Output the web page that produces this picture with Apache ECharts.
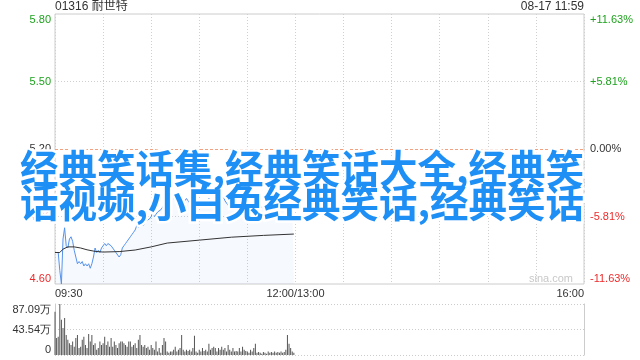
<!DOCTYPE html>
<html>
<head>
<meta charset="utf-8">
<script src="https://cdn.jsdelivr.net/npm/echarts@6/dist/echarts.min.js"></script>
<style>html,body{margin:0;padding:0;background:#fff}#c{width:640px;height:360px}</style>
</head>
<body>
<div id="c"></div>
<script>
const titleLeft = '01316 耐世特';
const titleRight = '08-17 11:59';
const watermark = 'sina.com';
const overlayLines = ['经典笑话集,经典笑话大全,经典笑', '话视频,小白兔经典笑话,经典笑话'];

const timeTickMinutes = [0, 150, 330];
const timeTickLabels = ['09:30', '12:00/13:00', '16:00'];
const priceTicks = [4.60, 4.90, 5.20, 5.50, 5.80];
const priceTickLabels = ['4.60', '4.90', '5.20', '5.50', '5.80'];
const pctTickLabels = ['-11.63%', '-5.81%', '0.00%', '+5.81%', '+11.63%'];
const preClose = 5.20;
const volMax = 87.09;
const volTickLabels = ['0', '43.54万', '87.09万'];

// price per minute from 09:30 (index 0) to 11:59 (index 149)
const price = [
  4.74, 4.74, 4.74, 4.66, 4.60, 4.80, 4.85, 4.77, 4.76, 4.80,
  4.81, 4.79, 4.75, 4.72, 4.69, 4.70, 4.69, 4.70, 4.68, 4.69,
  4.68, 4.69, 4.67, 4.69, 4.72, 4.76, 4.74, 4.75, 4.74, 4.76,
  4.77, 4.78, 4.77, 4.78, 4.78, 4.77, 4.76, 4.75, 4.74, 4.74,
  4.72, 4.73, 4.76, 4.77, 4.78, 4.79, 4.80, 4.81, 4.82, 4.83,
  4.84, 4.86, 4.85, 4.86, 4.87, 4.86, 4.87, 4.88, 4.88, 4.89,
  4.90, 4.92, 4.90, 4.91, 4.92, 4.92, 4.93, 4.94, 4.95, 4.96,
  4.97, 4.96, 4.98, 4.99, 4.98, 4.97, 4.99, 5.00, 4.98, 4.97,
  4.96, 4.97, 4.98, 4.97, 4.96, 4.95, 4.96, 4.97, 4.98, 4.97,
  4.96, 4.97, 4.96, 4.95, 4.96, 4.97, 4.98, 4.97, 4.96, 4.97,
  4.98, 4.97, 4.96, 4.97, 4.98, 4.99, 4.97, 4.96, 4.95, 4.96,
  4.95, 4.96, 4.95, 4.94, 4.95, 4.96, 4.95, 4.94, 4.95, 4.94,
  4.93, 4.94, 4.93, 4.92, 4.93, 4.94, 4.93, 4.94, 4.95, 4.94,
  4.95, 4.96, 4.95, 4.96, 4.95, 4.96, 4.97, 4.96, 4.95, 4.96,
  4.97, 4.96, 4.95, 4.96, 4.97, 4.96, 4.95, 4.96, 4.97, 4.97
];

// average price line, read at [minute, value]
const avgMinutes = [0, 3, 5, 8, 12, 16, 20, 25, 30, 40, 50, 60, 70, 90, 110, 130, 149];
const avgValues = [4.74, 4.74, 4.755, 4.765, 4.765, 4.76, 4.752, 4.745, 4.742, 4.744, 4.751, 4.765, 4.782, 4.795, 4.808, 4.816, 4.822];

// volume per minute (万)
const volume = [
  74, 29, 31, 87.09, 60, 46, 63, 34, 26, 20,
  17, 23, 14, 29, 34, 12, 14, 26, 31, 17,
  12, 36, 23, 34, 17, 20, 9, 12, 23, 17,
  20, 31, 17, 23, 14, 29, 14, 23, 17, 12,
  20, 23, 23, 20, 17, 14, 23, 23, 14, 17,
  20, 12, 26, 34, 17, 14, 17, 12, 14, 9,
  17, 12, 9, 23, 6, 12, 4, 17, 29, 23,
  6, 4, 6,
  6, 9, 14, 6, 9, 12, 34, 9, 6, 9,
  7, 9, 6, 12, 33, 6, 4, 9, 6, 12,
  7, 9, 6, 19, 9, 12, 14, 12, 6, 12,
  9, 14, 9, 12, 6, 17, 9, 6, 12, 6,
  7, 6, 12, 6, 14, 9, 7, 6, 4, 9,
  6, 12, 19, 4, 5, 4, 2, 5, 4, 2,
  6, 4, 5, 4, 6, 4, 5, 4, 6, 4,
  5, 9, 34, 19, 12, 6, 4
];

const GREEN = '#1fa21f', RED = '#ee2b2b', DARK = '#333';
function priceColor(v) {
  const n = parseFloat(v);
  if (Math.abs(n - preClose) < 1e-6) return DARK;
  return n > preClose ? GREEN : RED;
}
const baseFont = '"Liberation Sans", Arial, sans-serif';
const bigFont = 'bold 38.5px "Noto Sans CJK SC"';

const chart = echarts.init(document.getElementById('c'), null, {renderer: 'canvas'});
chart.setOption({
  animation: false,
  backgroundColor: '#fff',
  grid: [
    {left: 55, right: 56, top: 14, height: 270, show: true, borderColor: '#ccc', borderWidth: 1, backgroundColor: 'transparent'},
    {left: 55, right: 56, top: 304, height: 51}
  ],
  xAxis: [
    {
      type: 'value', gridIndex: 0, min: 0, max: 330, interval: 30,
      axisLine: {show: false}, axisTick: {show: false},
      splitLine: {show: true, lineStyle: {color: '#d0d0d0', type: [1, 2], width: 1}},
      axisLabel: {
        show: true, interval: 0, margin: 4, color: DARK, fontSize: 11, fontFamily: baseFont,
        alignMinLabel: 'left', alignMaxLabel: 'right',
        formatter: function (v) { const i = timeTickMinutes.indexOf(v); return i >= 0 ? timeTickLabels[i] : ''; }
      }
    },
    {
      type: 'value', gridIndex: 1, min: 0, max: 330,
      axisLine: {show: false}, axisTick: {show: false}, splitLine: {show: false}, axisLabel: {show: false}
    }
  ],
  yAxis: [
    {
      type: 'value', gridIndex: 0, min: priceTicks[0], max: priceTicks[4], interval: 0.3, position: 'left',
      axisLine: {show: false}, axisTick: {show: false},
      splitLine: {show: true, lineStyle: {color: ['transparent', '#d0d0d0', 'transparent', '#d0d0d0', 'transparent'], type: [1, 2]}},
      axisLabel: {
        margin: 4, fontSize: 11, fontFamily: baseFont, color: priceColor,
        verticalAlignMinLabel: 'bottom', verticalAlignMaxLabel: 'top',
        formatter: function (v, i) { return priceTickLabels[i]; }
      }
    },
    {
      type: 'value', gridIndex: 0, min: priceTicks[0], max: priceTicks[4], interval: 0.3, position: 'right',
      axisLine: {show: false}, axisTick: {show: false}, splitLine: {show: false},
      axisLabel: {
        margin: 6, fontSize: 11, fontFamily: baseFont, color: priceColor,
        verticalAlignMinLabel: 'bottom', verticalAlignMaxLabel: 'top',
        formatter: function (v, i) { return pctTickLabels[i]; }
      }
    },
    {
      type: 'value', gridIndex: 1, min: 0, max: volMax, interval: volMax / 2, position: 'left',
      axisLine: {show: true, lineStyle: {color: '#ccc'}}, axisTick: {show: false},
      splitLine: {show: true, lineStyle: {color: '#ccc', type: [1, 2]}},
      axisLabel: {
        margin: 4, fontSize: 11, fontFamily: baseFont, color: DARK,
        verticalAlignMinLabel: 'bottom', verticalAlignMaxLabel: 'top',
        formatter: function (v, i) { return volTickLabels[i]; }
      }
    },
    {
      type: 'value', gridIndex: 1, min: 0, max: volMax, position: 'right',
      axisLine: {show: true, lineStyle: {color: '#ccc'}}, axisTick: {show: false},
      splitLine: {show: false}, axisLabel: {show: false}
    }
  ],
  series: [
    {
      type: 'line', xAxisIndex: 0, yAxisIndex: 0, symbol: 'none', smooth: false,
      data: price.map(function (v, i) { return [i, v]; }),
      lineStyle: {color: '#5592ec', width: 1},
      areaStyle: {color: 'rgba(85,146,236,0.07)', origin: 'start'},
      markLine: {
        silent: true, symbol: 'none', label: {show: false},
        lineStyle: {color: '#f2a07e', type: [3, 2], width: 1},
        data: [{yAxis: preClose}]
      },
      z: 3
    },
    {
      type: 'line', xAxisIndex: 0, yAxisIndex: 0, symbol: 'none',
      data: avgMinutes.map(function (m, i) { return [m, avgValues[i]]; }),
      lineStyle: {color: '#333', width: 1}, z: 4
    },
    {
      type: 'bar', xAxisIndex: 1, yAxisIndex: 2, barWidth: 1,
      data: volume.map(function (v, i) { return [i, v]; }),
      itemStyle: {color: '#555'}
    }
  ],
  graphic: [
    {type: 'text', x: 55, y: 7, style: {text: titleLeft, font: '12px "Liberation Sans", Arial, "Noto Sans CJK SC"', fill: DARK, verticalAlign: 'middle', align: 'left'}},
    {type: 'text', x: 584, y: 7, style: {text: titleRight, font: '12px "Liberation Sans", Arial', fill: DARK, verticalAlign: 'middle', align: 'right'}},
    {type: 'text', x: 573, y: 279, style: {text: watermark, font: '11px "Liberation Sans", Arial', fill: '#c8c8c8', verticalAlign: 'middle', align: 'right'}},
    {type: 'text', x: 20, y: 168, z: 100, style: {text: overlayLines[0], font: bigFont, fill: '#fff', stroke: '#fff', lineWidth: 5, verticalAlign: 'middle', align: 'left'}},
    {type: 'text', x: 20, y: 202, z: 100, style: {text: overlayLines[1], font: bigFont, fill: '#fff', stroke: '#fff', lineWidth: 5, verticalAlign: 'middle', align: 'left'}},
    {type: 'text', x: 20, y: 168, z: 101, style: {text: overlayLines[0], font: bigFont, fill: '#1e8ff5', verticalAlign: 'middle', align: 'left'}},
    {type: 'text', x: 20, y: 202, z: 101, style: {text: overlayLines[1], font: bigFont, fill: '#1e8ff5', verticalAlign: 'middle', align: 'left'}}
  ]
});
</script>
</body>
</html>
